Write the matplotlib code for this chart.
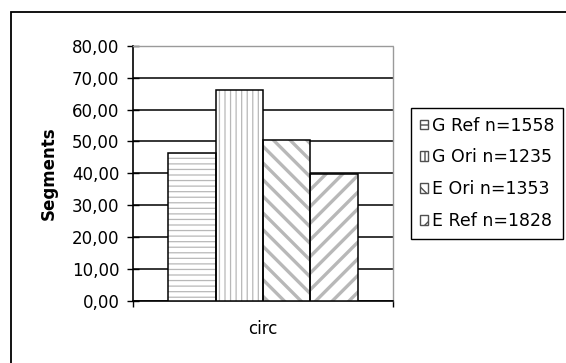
import matplotlib
matplotlib.use("Agg")
import matplotlib.pyplot as plt
from matplotlib.patches import Rectangle, Patch
from matplotlib.ticker import FixedLocator, FuncFormatter

plt.rcParams['font.family'] = ['DejaVu Sans']

category = "circ"
series = ["G Ref n=1558", "G Ori n=1235", "E Ori n=1353", "E Ref n=1828"]
values = [46.5, 66.2, 50.5, 39.8]
hatches = ["---", "|||", "\\\\", "//"]
hatch_widths = [0.9, 0.9, 2.4, 2.4]
y_ticks = [0, 10, 20, 30, 40, 50, 60, 70, 80]

W, H = 566, 363
FS = 12
fig = plt.figure(figsize=(W / 100, H / 100), dpi=100)
fig.patch.set_facecolor("white")

# plot area in pixel coordinates
x0, x1, ytop, ybot = 133.3, 392.7, 46.0, 300.5
ax = fig.add_axes([x0 / W, 1 - ybot / H, (x1 - x0) / W, (ybot - ytop) / H])

bar_w = 0.183
hatch_color = "#b8b8b8"
xs = [(i - 1.5) * bar_w for i in range(len(values))]
for x, v, h, hw in zip(xs, values, hatches, hatch_widths):
    # hatched fill in light grey, then a black outline on top
    with plt.rc_context({"hatch.linewidth": hw}):
        ax.bar(x, v, width=bar_w, facecolor="white", edgecolor=hatch_color,
               linewidth=0, hatch=h, zorder=3)
ax.bar(xs, values, width=bar_w, fill=False, edgecolor="black",
       linewidth=1.1, zorder=4)

ax.set_xlim(-0.5, 0.5)
ax.set_ylim(0, 80)
ax.set_yticks(y_ticks)
ax.yaxis.set_major_formatter(FuncFormatter(lambda v, _: f"{v:.2f}".replace(".", ",")))
ax.yaxis.grid(True, color="black", linewidth=1.1, zorder=0)
ax.set_axisbelow(True)
ax.tick_params(axis="y", direction="inout", length=8, width=1, pad=6,
               labelsize=FS)

# category boundary ticks and centered category label
ax.xaxis.set_major_locator(FixedLocator([-0.5, 0.5]))
ax.xaxis.set_major_formatter(FuncFormatter(lambda v, _: ""))
ax.xaxis.set_minor_locator(FixedLocator([0.0]))
ax.xaxis.set_minor_formatter(FuncFormatter(lambda v, _: category))
ax.tick_params(axis="x", which="major", direction="out", length=4, width=1)
ax.tick_params(axis="x", which="minor", length=0, pad=14, labelsize=FS)

for s in ("left", "bottom"):
    ax.spines[s].set_color("black")
    ax.spines[s].set_linewidth(1.2)
for s in ("top", "right"):
    ax.spines[s].set_color("#9a9a9a")
    ax.spines[s].set_linewidth(1.0)
    ax.spines[s].set_linestyle((0, (1, 1)))

ax.set_ylabel("Segments", fontsize=FS, fontweight="bold")
ax.yaxis.set_label_coords((58 - x0) / (x1 - x0), 0.5)

# legend
handles = []
for h in hatches:
    with plt.rc_context({"hatch.linewidth": 0.8}):
        handles.append(Patch(facecolor="white", edgecolor="#505050",
                             linewidth=1.0, hatch=h))
leg = fig.legend(handles, series, loc="upper left",
                 bbox_to_anchor=(411 / W, 1 - 108 / H),
                 bbox_transform=fig.transFigure, borderaxespad=0,
                 fontsize=12.5, frameon=True, fancybox=False,
                 edgecolor="black", framealpha=1, handlelength=0.5,
                 handleheight=0.5, handletextpad=0.2, labelspacing=0.79,
                 borderpad=0.5)
leg.get_frame().set_linewidth(1.0)

# outer chart border (left and top edges visible)
fig.add_artist(Rectangle((11 / W, -0.1), 1.2, 1 - 12 / H + 0.1,
                         transform=fig.transFigure, fill=False,
                         edgecolor="black", linewidth=1.3))

fig.savefig("out.png", dpi=100, facecolor="white")
